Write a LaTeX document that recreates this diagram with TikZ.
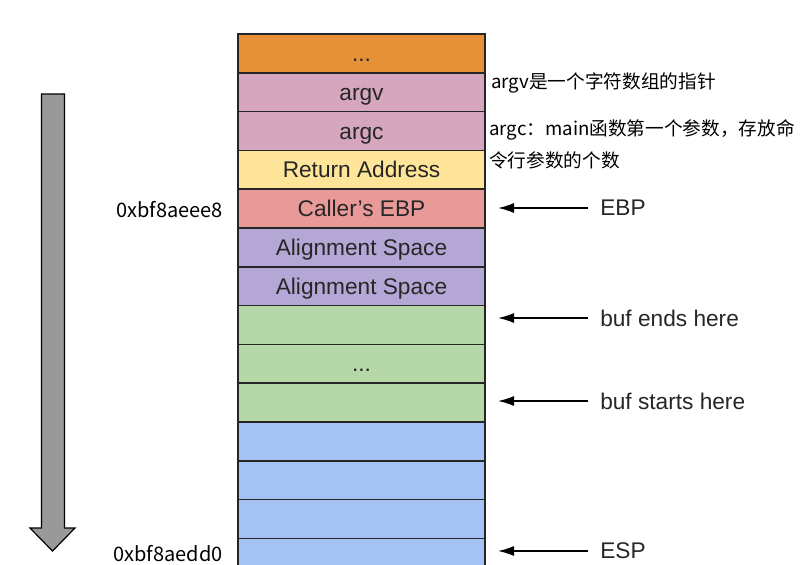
\documentclass[tikz,border=0pt]{standalone}
\usepackage{fontspec}
\setmainfont{Liberation Sans}
\newfontfamily\cjkfont{Noto Sans CJK SC}
\usetikzlibrary{arrows.meta,positioning}
\definecolor{slotorange}{HTML}{E69138}
\definecolor{slotpink}{HTML}{D5A6BD}
\definecolor{slotyellow}{HTML}{FFE599}
\definecolor{slotred}{HTML}{EA9999}
\definecolor{slotpurple}{HTML}{B4A7D6}
\definecolor{slotgreen}{HTML}{B6D7A8}
\definecolor{slotblue}{HTML}{A4C2F4}
\tikzset{
    %Define style for stack slots
    slotbox/.style={
           rectangle,
           draw=black!85, line width=1.3pt,
           minimum height=29.1pt,
           minimum width=185.25pt,
           inner sep=0pt, outer sep=0pt,
           text height=12.2pt, text depth=0pt,
           text=black!85,
           font=\fontsize{17}{19}\selectfont},
    ptrlabel/.style={
           inner sep=0pt,
           anchor=west,
           text=black!85,
           font=\fontsize{17}{19}\selectfont},
    addrlabel/.style={
           inner sep=0pt,
           anchor=east,
           font=\cjkfont\fontsize{15}{17}\selectfont},
    notelabel/.style={
           inner sep=0pt,
           anchor=west,
           font=\cjkfont\fontsize{14}{16}\selectfont},
    ptrarrow/.style={
           -{Latex[length=12pt,width=7.5pt]},
           line width=1.1pt,
           shorten <=9pt, shorten >=9.75pt}
}

\begin{document}
\begin{tikzpicture}[x=0.75pt, y=-0.75pt]
\useasboundingbox (0,0) rectangle (805,564);
\clip (0,0) rectangle (805,564);
%growth direction
\draw[fill=black!40, line width=0.9pt, line join=miter] (41.5,94) -- (64.5,94) -- (64.5,528) -- (75,528) -- (52.5,551) -- (30,528) -- (41.5,528) -- cycle;
%stack slots
\node[slotbox, fill=slotorange] (dots) at (361.5,53.4) {...};
\node[slotbox, fill=slotpink, anchor=north] (argv) at (dots.south) {argv};
\node[slotbox, fill=slotpink, anchor=north] (argc) at (argv.south) {argc};
\node[slotbox, fill=slotyellow, anchor=north] (retaddr) at (argc.south) {Return Address};
\node[slotbox, fill=slotred, anchor=north] (callerebp) at (retaddr.south) {Caller’s EBP};
\node[slotbox, fill=slotpurple, anchor=north] (alignone) at (callerebp.south) {Alignment Space};
\node[slotbox, fill=slotpurple, anchor=north] (aligntwo) at (alignone.south) {Alignment Space};
\node[slotbox, fill=slotgreen, anchor=north] (bufend) at (aligntwo.south) {};
\node[slotbox, fill=slotgreen, anchor=north] (bufdots) at (bufend.south) {...};
\node[slotbox, fill=slotgreen, anchor=north] (bufstart) at (bufdots.south) {};
\node[slotbox, fill=slotblue, anchor=north] (freeone) at (bufstart.south) {};
\node[slotbox, fill=slotblue, anchor=north] (freetwo) at (freeone.south) {};
\node[slotbox, fill=slotblue, anchor=north] (freethree) at (freetwo.south) {};
\node[slotbox, fill=slotblue, anchor=north] (espslot) at (freethree.south) {};
%addresses
\node[addrlabel] (addrebp) at (223,210) {0xbf8aeee8};
\node[addrlabel] (addresp) at (223,554) {0xbf8aedd0};
%notes
\node[notelabel] (noteargv) at (491,83) {argv是一个字符数组的指针};
\node[notelabel] (noteargc) at (489,130) {argc：main函数第一个参数，存放命};
\node[notelabel] (noteargcb) at (489,160) {令行参数的个数};
%pointers
\node[ptrlabel] (lblebp) at (600,208) {EBP};
\node[ptrlabel] (lblbufend) at (600,318) {buf ends here};
\node[ptrlabel] (lblbufstart) at (600,401) {buf starts here};
\node[ptrlabel] (lblesp) at (600,551) {ESP};
\draw[ptrarrow] (lblebp.west) -- (lblebp.west -| callerebp.east);
\draw[ptrarrow] (lblbufend.west) -- (lblbufend.west -| bufend.east);
\draw[ptrarrow] (lblbufstart.west) -- (lblbufstart.west -| bufstart.east);
\draw[ptrarrow] (lblesp.west) -- (lblesp.west -| espslot.east);
\end{tikzpicture}
\end{document}
